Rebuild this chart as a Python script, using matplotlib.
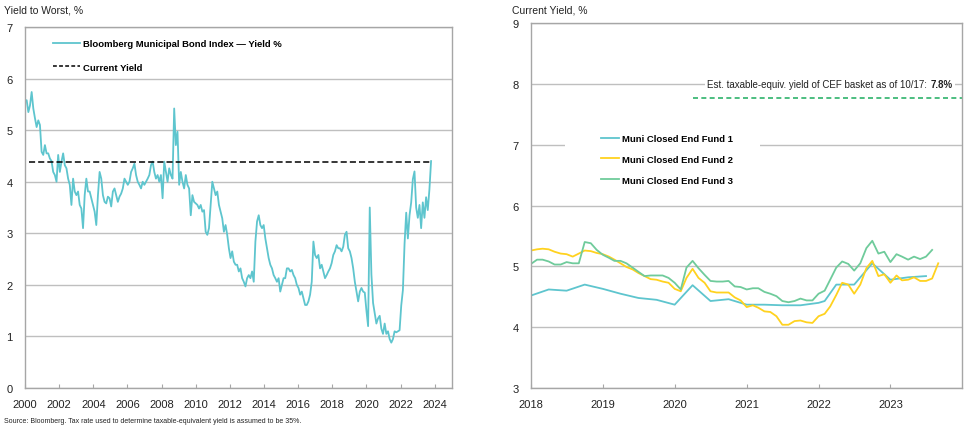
import matplotlib
matplotlib.use("Agg")
import matplotlib.pyplot as plt
import matplotlib.dates as mdates
from matplotlib.lines import Line2D
from matplotlib.patches import Rectangle
import pandas as pd

# --- data ---
ytw = [5.58, 5.58, 5.35, 5.48, 5.74, 5.42, 5.23, 5.06, 5.19, 5.10,
       4.58, 4.52, 4.71, 4.55, 4.55, 4.45, 4.40, 4.19, 4.13, 4.00,
       4.52, 4.19, 4.39, 4.55, 4.32, 4.26, 4.06, 3.94, 3.55, 4.06,
       3.81, 3.74, 3.81, 3.55, 3.48, 3.10, 3.74, 4.06, 3.81, 3.81,
       3.68, 3.55, 3.42, 3.16, 3.74, 4.19, 4.06, 3.74, 3.61, 3.58,
       3.71, 3.68, 3.52, 3.81, 3.87, 3.74, 3.61, 3.71, 3.77, 3.87,
       4.06, 4.00, 3.94, 4.00, 4.19, 4.26, 4.35, 4.13, 4.00, 3.94,
       3.87, 4.00, 3.94, 4.00, 4.06, 4.13, 4.32, 4.39, 4.19, 4.06,
       4.13, 4.00, 4.13, 3.68, 4.39, 4.19, 4.00, 4.26, 4.13, 4.06,
       5.42, 4.71, 4.97, 3.94, 4.19, 4.00, 3.87, 4.13, 3.94, 3.87,
       3.35, 3.74, 3.61, 3.58, 3.55, 3.48, 3.55, 3.42, 3.45, 3.03,
       2.97, 3.10, 3.55, 4.00, 3.87, 3.74, 3.81, 3.55, 3.42, 3.29,
       3.03, 3.16, 2.97, 2.71, 2.52, 2.65, 2.45, 2.39, 2.39, 2.26,
       2.32, 2.13, 2.06, 1.97, 2.13, 2.19, 2.13, 2.26, 2.06, 2.84,
       3.23, 3.35, 3.16, 3.10, 3.16, 2.90, 2.71, 2.52, 2.39, 2.32,
       2.19, 2.13, 2.06, 2.13, 1.87, 2.00, 2.13, 2.13, 2.32, 2.32,
       2.26, 2.29, 2.19, 2.13, 2.00, 1.94, 1.81, 1.87, 1.74, 1.61,
       1.61, 1.68, 1.81, 2.06, 2.84, 2.58, 2.52, 2.58, 2.32, 2.39,
       2.26, 2.13, 2.19, 2.26, 2.32, 2.42, 2.58, 2.65, 2.77, 2.71,
       2.71, 2.65, 2.74, 2.97, 3.03, 2.71, 2.65, 2.52, 2.32, 2.06,
       1.87, 1.68, 1.87, 1.94, 1.87, 1.85, 1.50, 1.20, 3.50, 2.20,
       1.65, 1.45, 1.25, 1.35, 1.40, 1.15, 1.05, 1.25, 1.05, 1.10,
       0.95, 0.88, 0.95, 1.10, 1.08, 1.10, 1.12, 1.60, 1.90, 2.80,
       3.40, 2.90, 3.35, 3.60, 4.05, 4.20, 3.50, 3.30, 3.55, 3.10,
       3.60, 3.30, 3.70, 3.45, 3.85, 4.40]
ytw_dates = pd.date_range("2000-01-01", "2023-10-15", periods=len(ytw))
current_yield = 4.38
current_start = "2000-04-01"

fund1_dates = pd.to_datetime([
    "2018-01", "2018-04", "2018-07", "2018-10", "2019-01", "2019-04", "2019-07", "2019-10",
    "2020-01", "2020-04", "2020-07", "2020-10", "2021-01", "2021-04", "2021-07", "2021-10",
    "2022-01", "2022-02", "2022-04", "2022-07", "2022-10", "2023-01", "2023-04", "2023-07"])
fund1 = [4.52, 4.62, 4.60, 4.70, 4.63, 4.55, 4.48, 4.45,
         4.37, 4.69, 4.43, 4.46, 4.37, 4.37, 4.36, 4.36,
         4.40, 4.43, 4.70, 4.70, 5.05, 4.78, 4.82, 4.84]

fund2 = [5.26, 5.28, 5.29, 5.28, 5.24, 5.21, 5.20, 5.16, 5.21, 5.26,
         5.25, 5.22, 5.20, 5.16, 5.11, 5.05, 4.99, 4.95, 4.89, 4.84,
         4.79, 4.78, 4.75, 4.73, 4.63, 4.59, 4.81, 4.96, 4.81, 4.73,
         4.59, 4.57, 4.57, 4.57, 4.49, 4.44, 4.33, 4.36, 4.32, 4.26,
         4.25, 4.18, 4.04, 4.04, 4.10, 4.11, 4.08, 4.07, 4.18, 4.22,
         4.34, 4.53, 4.73, 4.70, 4.55, 4.70, 4.97, 5.09, 4.84, 4.87,
         4.73, 4.85, 4.77, 4.78, 4.82, 4.76, 4.76, 4.80, 5.05]
fund2_dates = pd.date_range("2018-01-01", periods=len(fund2), freq="MS")

fund3 = [5.04, 5.11, 5.11, 5.08, 5.03, 5.03, 5.07, 5.05, 5.05, 5.40,
         5.38, 5.27, 5.19, 5.14, 5.09, 5.09, 5.05, 4.98, 4.91, 4.84,
         4.85, 4.85, 4.85, 4.81, 4.73, 4.62, 4.98, 5.09, 4.97, 4.86,
         4.76, 4.75, 4.75, 4.76, 4.67, 4.66, 4.62, 4.64, 4.64, 4.58,
         4.55, 4.51, 4.43, 4.41, 4.43, 4.47, 4.44, 4.44, 4.55, 4.60,
         4.78, 4.98, 5.08, 5.04, 4.93, 5.05, 5.30, 5.42, 5.21, 5.24,
         5.07, 5.20, 5.16, 5.11, 5.16, 5.12, 5.16, 5.27]
fund3_dates = pd.date_range("2018-01-01", periods=len(fund3), freq="MS")

cef_yield = 7.76
cef_start = "2020-04-05"

plt.rcParams["font.family"] = ["Liberation Sans", "DejaVu Sans"]

cyan = "#5EC5CE"
yellow = "#FFD21F"
green = "#6FCB9B"
grid_c = "#BFBFBF"
frame_c = "#A6A6A6"
txt = "#222222"

fig = plt.figure(figsize=(9.7, 4.31), dpi=100)
ax1 = fig.add_axes([0.0258, 0.0974, 0.440, 0.8376])
ax2 = fig.add_axes([0.5474, 0.0974, 0.4444, 0.8469])

for ax in (ax1, ax2):
    for s in ax.spines.values():
        s.set_color(frame_c)
        s.set_linewidth(1.0)
    ax.yaxis.grid(True, color=grid_c, linewidth=1.0)
    ax.set_axisbelow(True)
    ax.tick_params(axis="y", length=0, pad=9, labelsize=8, labelcolor=txt)
    ax.tick_params(axis="x", direction="in", length=3, color=frame_c, pad=8,
                   labelsize=8, labelcolor=txt)
    ax.tick_params(axis="x", which="minor", length=0)

# left chart
ax1.plot(ytw_dates, ytw, color=cyan, linewidth=1.3)
ax1.hlines(current_yield, pd.Timestamp(current_start), ytw_dates[-1],
           colors="black", linestyles=(0, (4, 2)), linewidth=1.1)
ax1.set_ylim(0, 7)
ax1.set_xlim(pd.Timestamp("2000-01-01"), pd.Timestamp("2025-01-01"))
ax1.xaxis.set_major_locator(mdates.YearLocator(2))
ax1.xaxis.set_major_formatter(mdates.DateFormatter("%Y"))
h1 = [Line2D([], [], color=cyan, linewidth=1.3),
      Line2D([], [], color="black", linestyle=(0, (2.5, 1.5)), linewidth=1.1)]
ax1.legend(h1, ["Bloomberg Municipal Bond Index \u2014 Yield %", "Current Yield"],
           loc="upper left", bbox_to_anchor=(0.045, 0.99), frameon=False,
           handlelength=2.9, handletextpad=0.3, labelspacing=1.55,
           prop={"weight": "bold", "size": 6.8})

# right chart
ax2.plot(fund1_dates, fund1, color=cyan, linewidth=1.3, label="Muni Closed End Fund 1")
ax2.plot(fund2_dates, fund2, color=yellow, linewidth=1.3, label="Muni Closed End Fund 2")
ax2.plot(fund3_dates, fund3, color=green, linewidth=1.3, label="Muni Closed End Fund 3")
ax2.hlines(cef_yield, pd.Timestamp(cef_start), pd.Timestamp("2024-01-01"),
           colors="#2EB36B", linestyles=(0, (3, 2)), linewidth=1.2)
ax2.set_ylim(3, 9)
ax2.set_xlim(pd.Timestamp("2018-01-01"), pd.Timestamp("2023-12-31"))
ax2.xaxis.set_major_locator(mdates.YearLocator(1))
ax2.xaxis.set_major_formatter(mdates.DateFormatter("%Y"))
# white band behind the legend, hiding the grid line
ax2.add_patch(Rectangle((0.079, 0.655), 0.452, 0.06, transform=ax2.transAxes,
                        facecolor="white", edgecolor="none", zorder=1))
ax2.legend(loc="upper left", bbox_to_anchor=(0.152, 0.709), frameon=False,
           handlelength=1.9, handletextpad=0.3, labelspacing=1.25,
           borderpad=0.0, prop={"weight": "bold", "size": 6.8})

t_bold = ax2.text(0.979, 8.0, "7.8%", transform=ax2.get_yaxis_transform(),
                  fontsize=7, fontweight="bold", color=txt, va="center", ha="right",
                  zorder=6, bbox=dict(facecolor="white", edgecolor="none", pad=1.5))
ax2.annotate("Est. taxable-equiv. yield of CEF basket as of 10/17:", xy=(0, 0.5),
             xytext=(-3, 0), textcoords="offset points",
             xycoords=t_bold, va="center", ha="right", fontsize=7, color=txt,
             zorder=5, bbox=dict(facecolor="white", edgecolor="none", pad=1.5))

fig.text(0.004, 0.975, "Yield to Worst, %", fontsize=7.5, color=txt, va="center")
fig.text(0.528, 0.975, "Current Yield, %", fontsize=7.5, color=txt, va="center")
fig.text(0.004, 0.022, "Source: Bloomberg. Tax rate used to determine taxable-equivalent "
         "yield is assumed to be 35%.", fontsize=5, color=txt, va="center")

fig.savefig("out.png", dpi=100)
